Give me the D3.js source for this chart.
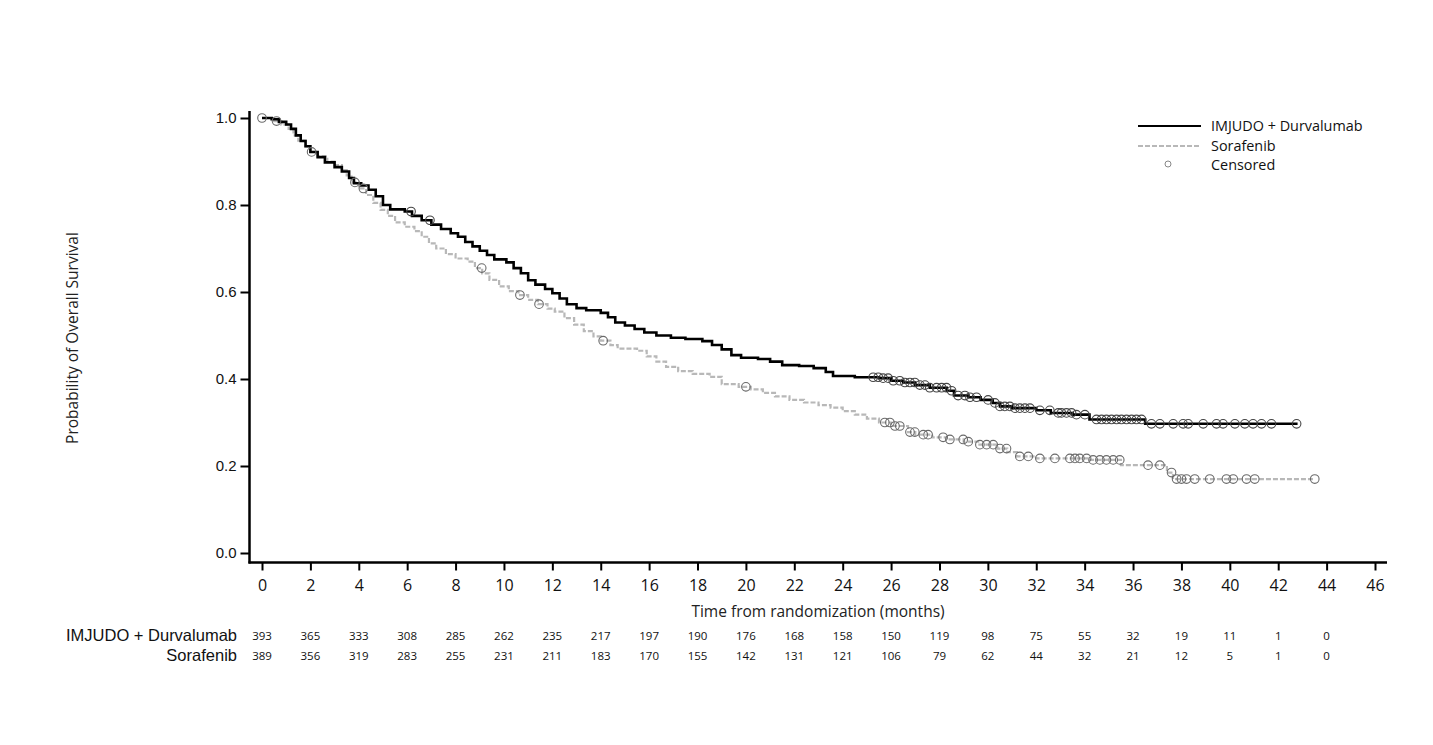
<!DOCTYPE html>
<html>
<head>
<meta charset="utf-8">
<script src="https://cdn.jsdelivr.net/npm/d3@7"></script>
<style>
  html, body { margin: 0; padding: 0; background: #fff; }
  svg { display: block; }
</style>
</head>
<body>
<svg id="chart" width="1433" height="745"></svg>
<script>
// ---------- DATA ----------
const seriesNames = ["IMJUDO + Durvalumab", "Sorafenib"];

// Kaplan-Meier step knots: time (months) and survival after the step
const imjudoTime = [0,0.4,0.7,1.0,1.2,1.4,1.6,1.8,2.0,2.3,2.6,3.0,3.3,3.6,3.8,4.1,4.4,4.7,5.0,5.3,5.9,6.2,6.6,7.0,7.4,7.8,8.1,8.4,8.7,9.0,9.3,9.6,10.1,10.4,10.7,11.0,11.3,11.7,12.0,12.3,12.6,13.0,13.4,14.0,14.3,14.6,15.0,15.4,15.8,16.3,16.9,17.5,18.2,18.6,19.0,19.4,19.8,20.5,21.0,21.5,22.2,22.8,23.3,23.6,24.5,25.5,26.0,26.5,27.0,27.6,28.3,28.6,29.2,29.7,30.2,30.5,31.0,32.0,32.6,33.5,34.2,36.5,42.8];
const imjudoSurv = [1.0,0.997,0.991,0.985,0.975,0.96,0.947,0.935,0.922,0.91,0.898,0.887,0.877,0.862,0.85,0.845,0.835,0.82,0.80,0.79,0.785,0.775,0.765,0.755,0.745,0.735,0.727,0.715,0.705,0.695,0.685,0.675,0.668,0.655,0.643,0.627,0.617,0.607,0.597,0.585,0.572,0.563,0.558,0.552,0.542,0.53,0.523,0.515,0.507,0.50,0.495,0.492,0.487,0.478,0.468,0.455,0.449,0.446,0.44,0.432,0.43,0.425,0.416,0.407,0.404,0.402,0.396,0.392,0.386,0.38,0.373,0.362,0.358,0.352,0.345,0.337,0.333,0.328,0.322,0.318,0.307,0.297,0.297];

const sorafTime = [0,0.5,0.8,1.1,1.3,1.5,1.8,2.0,2.3,2.7,3.0,3.3,3.5,3.7,4.0,4.3,4.6,4.9,5.2,5.5,5.9,6.3,6.6,6.9,7.2,7.6,8.0,8.5,8.8,9.1,9.4,9.8,10.2,10.6,11.0,11.4,11.8,12.1,12.5,12.9,13.3,13.7,14.0,14.4,14.7,15.5,15.9,16.3,16.7,17.2,17.8,18.5,19.0,19.7,20.2,20.7,21.2,21.8,22.4,23.0,23.5,24.0,24.5,25.0,25.5,26.0,26.7,27.0,27.7,28.3,29.0,29.6,30.4,30.8,31.2,32.0,34.2,35.5,37.4,37.65,43.5];
const sorafSurv = [1.0,0.993,0.985,0.975,0.96,0.948,0.935,0.922,0.912,0.90,0.892,0.88,0.868,0.852,0.838,0.823,0.805,0.789,0.775,0.76,0.75,0.74,0.727,0.712,0.70,0.687,0.677,0.67,0.655,0.643,0.628,0.613,0.602,0.593,0.582,0.572,0.562,0.555,0.54,0.525,0.51,0.498,0.488,0.478,0.47,0.465,0.452,0.44,0.428,0.418,0.412,0.405,0.388,0.382,0.376,0.368,0.36,0.352,0.346,0.34,0.334,0.326,0.318,0.309,0.30,0.292,0.278,0.272,0.266,0.261,0.256,0.249,0.24,0.232,0.222,0.2175,0.214,0.202,0.185,0.17,0.17];

// censoring times (months)
const imjudoCensor = [6.16,6.94,25.26,25.47,25.67,25.88,26.09,26.36,26.57,26.78,26.98,27.19,27.40,27.60,27.88,28.09,28.29,28.50,28.77,29.05,29.26,29.53,30.01,30.29,30.50,30.70,30.91,31.12,31.32,31.53,31.74,32.15,32.56,32.91,33.04,33.25,33.46,33.66,34.01,34.49,34.70,34.90,35.11,35.32,35.52,35.73,35.94,36.14,36.35,36.76,37.11,37.66,38.07,38.28,38.90,39.45,39.72,40.21,40.62,40.96,41.31,41.72,42.76];
const sorafCensor = [0,0.6,2.05,3.84,4.19,9.08,10.66,11.45,14.1,20.0,25.74,25.95,26.16,26.36,26.78,26.98,27.33,27.53,28.15,28.43,28.98,29.19,29.67,29.95,30.22,30.50,30.77,31.32,31.67,32.15,32.77,33.39,33.60,33.80,34.08,34.35,34.63,34.90,35.18,35.45,36.62,37.11,37.59,37.80,38.00,38.21,38.55,39.17,39.86,40.14,40.69,41.03,43.51];

// numbers at risk
const riskTimes = [0,2,4,6,8,10,12,14,16,18,20,22,24,26,28,30,32,34,36,38,40,42,44];
const imjudoRisk = [393,365,333,308,285,262,235,217,197,190,176,168,158,150,119,98,75,55,32,19,11,1,0];
const sorafRisk = [389,356,319,283,255,231,211,183,170,155,142,131,121,106,79,62,44,32,21,12,5,1,0];

const xTicks = d3.range(0, 47, 2);
const yTicks = [0, 0.2, 0.4, 0.6, 0.8, 1.0];

// ---------- DRAW ----------
const svg = d3.select("#chart");
const x = d3.scaleLinear().domain([0, 46]).range([262, 1375]);
const y = d3.scaleLinear().domain([0, 1]).range([553, 118]);

const sansFont = "'Liberation Sans', Arial, sans-serif";
const tickFont = "'Open Sans', sans-serif";

// y axis
const yAxis = svg.append("g").attr("transform", "translate(249.5,0)")
  .call(d3.axisLeft(y).tickValues(yTicks).tickFormat(d3.format(".1f")).tickSize(9).tickPadding(4));
yAxis.select(".domain").remove();
svg.append("line").attr("x1", 249.5).attr("x2", 249.5).attr("y1", 111).attr("y2", 563.5)
  .attr("stroke", "#000").attr("stroke-width", 2.5);
yAxis.selectAll(".tick line").attr("stroke", "#000").attr("stroke-width", 2);
yAxis.selectAll(".tick text").attr("font-family", sansFont).attr("font-size", 15).attr("fill", "#111");

// x axis
const xAxis = svg.append("g").attr("transform", "translate(0,562.5)")
  .call(d3.axisBottom(x).tickValues(xTicks).tickSize(8).tickPadding(9));
xAxis.select(".domain").remove();
svg.append("line").attr("x1", 248.5).attr("x2", 1387).attr("y1", 562.5).attr("y2", 562.5)
  .attr("stroke", "#000").attr("stroke-width", 2.5);
xAxis.selectAll(".tick line").attr("stroke", "#000").attr("stroke-width", 2);
xAxis.selectAll(".tick text").attr("font-family", tickFont).attr("font-size", 16).attr("fill", "#111");

// axis titles
svg.append("text").attr("transform", "translate(78,338) rotate(-90)")
  .attr("text-anchor", "middle").attr("font-family", tickFont).attr("font-size", 15.5).attr("fill", "#222")
  .text("Probability of Overall Survival");
svg.append("text").attr("x", 818).attr("y", 617)
  .attr("text-anchor", "middle").attr("font-family", tickFont).attr("font-size", 15.5).attr("fill", "#222")
  .text("Time from randomization (months)");

// curves
function survAt(times, surv, t) {
  const i = d3.bisectRight(times, t) - 1;
  return surv[Math.max(0, i)];
}
const line = d3.line().x(d => x(d[0])).y(d => y(d[1])).curve(d3.curveStepAfter);

const sorafData = sorafTime.map((t, i) => [t, sorafSurv[i]]);
const imjudoData = imjudoTime.map((t, i) => [t, imjudoSurv[i]]);

svg.append("path").datum(sorafData).attr("d", line)
  .attr("fill", "none").attr("stroke", "#b8b8b8").attr("stroke-width", 2.2).attr("stroke-dasharray", "5,2");
svg.append("path").datum(imjudoData).attr("d", line)
  .attr("fill", "none").attr("stroke", "#000").attr("stroke-width", 2.6);

// censor marks
svg.append("g").selectAll("circle").data(sorafCensor).join("circle")
  .attr("cx", t => x(t)).attr("cy", t => y(survAt(sorafTime, sorafSurv, t)))
  .attr("r", 4.3).attr("fill", "none").attr("stroke", "#6a6a6a").attr("stroke-width", 1.1);
svg.append("g").selectAll("circle").data(imjudoCensor).join("circle")
  .attr("cx", t => x(t)).attr("cy", t => y(survAt(imjudoTime, imjudoSurv, t)))
  .attr("r", 4.3).attr("fill", "none").attr("stroke", "#444").attr("stroke-width", 1.1);

// legend
const lg = svg.append("g").attr("font-family", tickFont).attr("font-size", 14.4).attr("fill", "#111");
lg.append("line").attr("x1", 1138).attr("x2", 1201).attr("y1", 126).attr("y2", 126)
  .attr("stroke", "#000").attr("stroke-width", 2);
lg.append("text").attr("x", 1211).attr("y", 131).text(seriesNames[0]);
lg.append("line").attr("x1", 1138).attr("x2", 1201).attr("y1", 146).attr("y2", 146)
  .attr("stroke", "#b8b8b8").attr("stroke-width", 2).attr("stroke-dasharray", "5,2");
lg.append("text").attr("x", 1211).attr("y", 151).text(seriesNames[1]);
lg.append("circle").attr("cx", 1168).attr("cy", 164).attr("r", 3)
  .attr("fill", "none").attr("stroke", "#888").attr("stroke-width", 1);
lg.append("text").attr("x", 1211).attr("y", 170).text("Censored");

// numbers at risk
const rk = svg.append("g");
[[seriesNames[0], imjudoRisk, 641], [seriesNames[1], sorafRisk, 661]].forEach(([name, vals, yy]) => {
  rk.append("text").attr("x", 237).attr("y", yy).attr("text-anchor", "end")
    .attr("font-family", sansFont).attr("font-size", 16.5).attr("fill", "#111").text(name);
  rk.append("g").selectAll("text").data(vals).join("text")
    .attr("x", (d, i) => x(riskTimes[i])).attr("y", yy - 1)
    .attr("text-anchor", "middle").attr("font-family", tickFont).attr("font-size", 11.5)
    .attr("fill", "#111").text(d => d);
});
</script>
</body>
</html>
